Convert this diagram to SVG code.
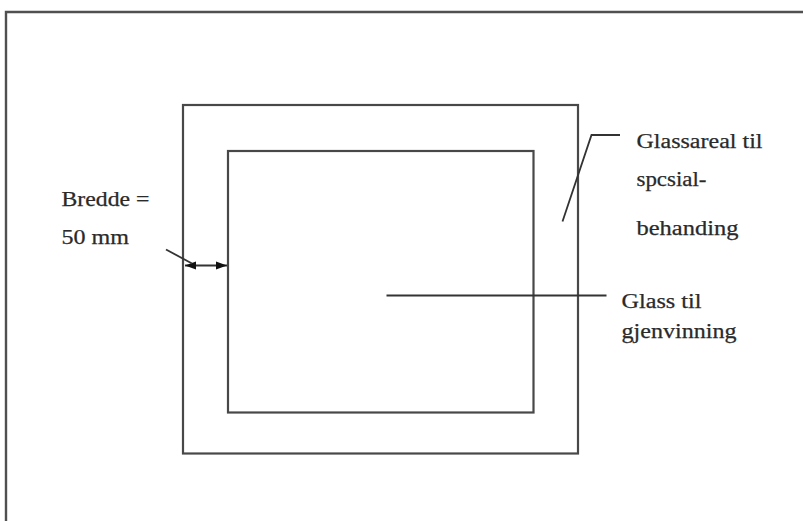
<svg xmlns="http://www.w3.org/2000/svg" width="803" height="521" viewBox="0 0 803 521">
<style>
.frame{fill:none;stroke:#505050;stroke-width:2.4}
.rect{fill:none;stroke:#484848;stroke-width:2.2}
.line{fill:none;stroke:#333;stroke-width:1.8}
.lbl{font-family:"Liberation Serif","Times New Roman",serif;font-size:20.5px;fill:#2a2a2a;stroke:#2a2a2a;stroke-width:0.25}
</style>
<defs>
<marker id="ah" viewBox="0 0 10 10" refX="10" refY="5" markerWidth="11" markerHeight="9" markerUnits="userSpaceOnUse" orient="auto-start-reverse" preserveAspectRatio="none">
<path d="M0,0.5 L10,5 L0,9.5 Z" fill="#111"/>
</marker>
</defs>
<rect x="0" y="0" width="803" height="521" fill="#ffffff"/>
<g id="frame">
<path class="frame" d="M6,521 L6,12 L803,12"/>
</g>
<g id="outer-glass">
<rect class="rect" x="183" y="105" width="395" height="348.5"/>
</g>
<g id="inner-glass">
<rect class="rect" x="228" y="151" width="305.5" height="261.5"/>
</g>
<g id="label-bredde">
<text class="lbl" x="61.5" y="206" textLength="88" lengthAdjust="spacingAndGlyphs">Bredde =</text>
<text class="lbl" x="61.5" y="243.5" textLength="67.5" lengthAdjust="spacingAndGlyphs">50 mm</text>
</g>
<g id="label-glassareal">
<text class="lbl" x="636.5" y="147.5" textLength="126" lengthAdjust="spacingAndGlyphs">Glassareal til</text>
<text class="lbl" x="636.5" y="186" textLength="70" lengthAdjust="spacingAndGlyphs">spcsial-</text>
<text class="lbl" x="636.5" y="235" textLength="102" lengthAdjust="spacingAndGlyphs">behanding</text>
</g>
<g id="label-gjenvinning">
<text class="lbl" x="621.5" y="307.5" textLength="80" lengthAdjust="spacingAndGlyphs">Glass til</text>
<text class="lbl" x="621.5" y="338" textLength="115" lengthAdjust="spacingAndGlyphs">gjenvinning</text>
</g>
<g id="connectors">
<line class="line" x1="185" y1="265.5" x2="227" y2="265.5" marker-start="url(#ah)" marker-end="url(#ah)"/>
<line class="line" x1="166" y1="249.5" x2="192" y2="263.5"/>
<polyline class="line" points="562.5,221.5 591.5,135 620,135"/>
<line class="line" x1="386.5" y1="295.5" x2="606.5" y2="295.5"/>
</g>
</svg>
